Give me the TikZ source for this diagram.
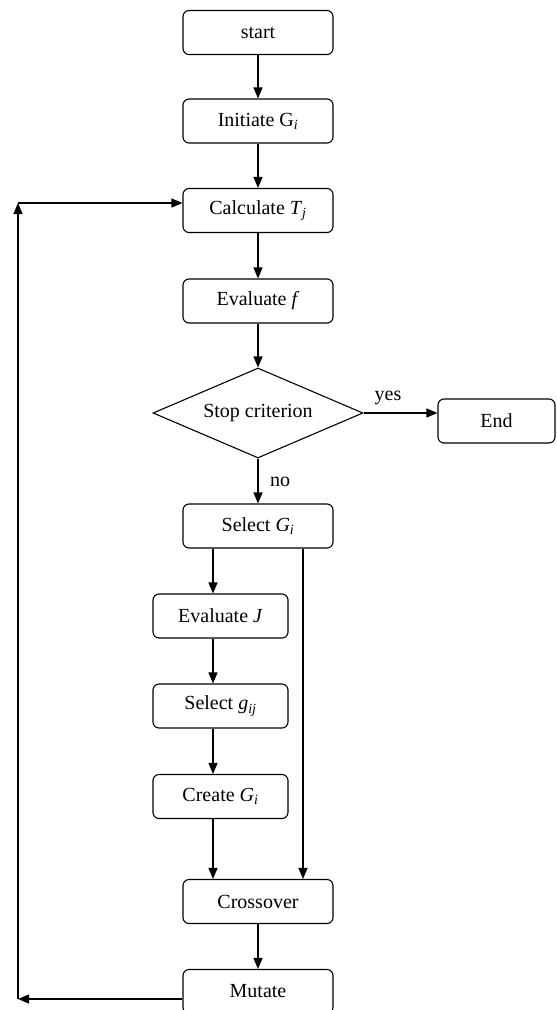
\documentclass[tikz,border=0pt]{standalone}
\usepackage{fontspec}
\setmainfont{Liberation Serif}
\usetikzlibrary{shapes.geometric,arrows.meta}
\begin{document}
\begin{tikzpicture}[x=1pt,y=-1pt,
  box/.style={draw,rounded corners=6pt,line width=1.1pt,minimum width=150pt,minimum height=44pt,inner sep=0pt,font=\fontsize{20pt}{23pt}\selectfont},
  sbox/.style={box,minimum width=135pt},
  dia/.style={draw,diamond,aspect=2.333,line width=1.1pt,minimum width=210pt,minimum height=90pt,inner sep=0pt,font=\fontsize{20pt}{23pt}\selectfont},
  arr/.style={line width=1.1pt,-{Triangle[length=11pt,width=9pt]}},
  lbl/.style={font=\fontsize{20pt}{23pt}\selectfont,inner sep=0pt}]
\useasboundingbox (0,0) rectangle (557,1010);
\clip (0,0) rectangle (557,1010);
\node[box] (start) at (258,32.5) {start};
\node[box] (init) at (258,121) {Initiate G\textsubscript{\textit{i}}};
\node[box] (calc) at (258,210.5) {Calculate \textit{T}\textsubscript{\textit{j}}};
\node[box] (evf) at (258,301) {Evaluate \textit{f}};
\node[dia] (stop) at (258,413) {Stop criterion};
\node[box,minimum width=117pt] (end) at (496.5,421) {End};
\node[box] (sel) at (258,526) {Select \textit{G}\textsubscript{\textit{i}}};
\node[sbox] (evj) at (220.5,616) {Evaluate \textit{J}};
\node[sbox] (selg) at (220.5,706) {Select \textit{g}\textsubscript{\textit{ij}}};
\node[sbox] (cre) at (220.5,796.5) {Create \textit{G}\textsubscript{\textit{i}}};
\node[box] (cross) at (258,901.5) {Crossover};
\node[box] (mut) at (258,991.5) {Mutate};
\coordinate (cl) at (213,0);
\coordinate (cr) at (303,0);
\coordinate (lb) at (18,999);
\coordinate (lt) at (18,203);
\draw[arr] (start) -- (init);
\draw[arr] (init) -- (calc);
\draw[arr] (calc) -- (evf);
\draw[arr] (evf) -- (stop);
\draw[arr] (stop.east) -- (stop.east -| end.west);
\draw[arr] (stop) -- (sel);
\draw[arr] (sel.south -| cl) -- (evj.north -| cl);
\draw[arr] (evj.south -| cl) -- (selg.north -| cl);
\draw[arr] (selg.south -| cl) -- (cre.north -| cl);
\draw[arr] (cre.south -| cl) -- (cross.north -| cl);
\draw[arr] (sel.south -| cr) -- (cross.north -| cr);
\draw[arr] (cross) -- (mut);
\draw[arr] (mut.west |- lb) -- (lb);
\draw[arr] (lb) -- (lt);
\draw[arr] (lt) -- (lt -| calc.west);
\node[lbl] (yes) at (388,398) {yes};
\node[lbl] (no) at (280,482) {no};
\end{tikzpicture}
\end{document}
